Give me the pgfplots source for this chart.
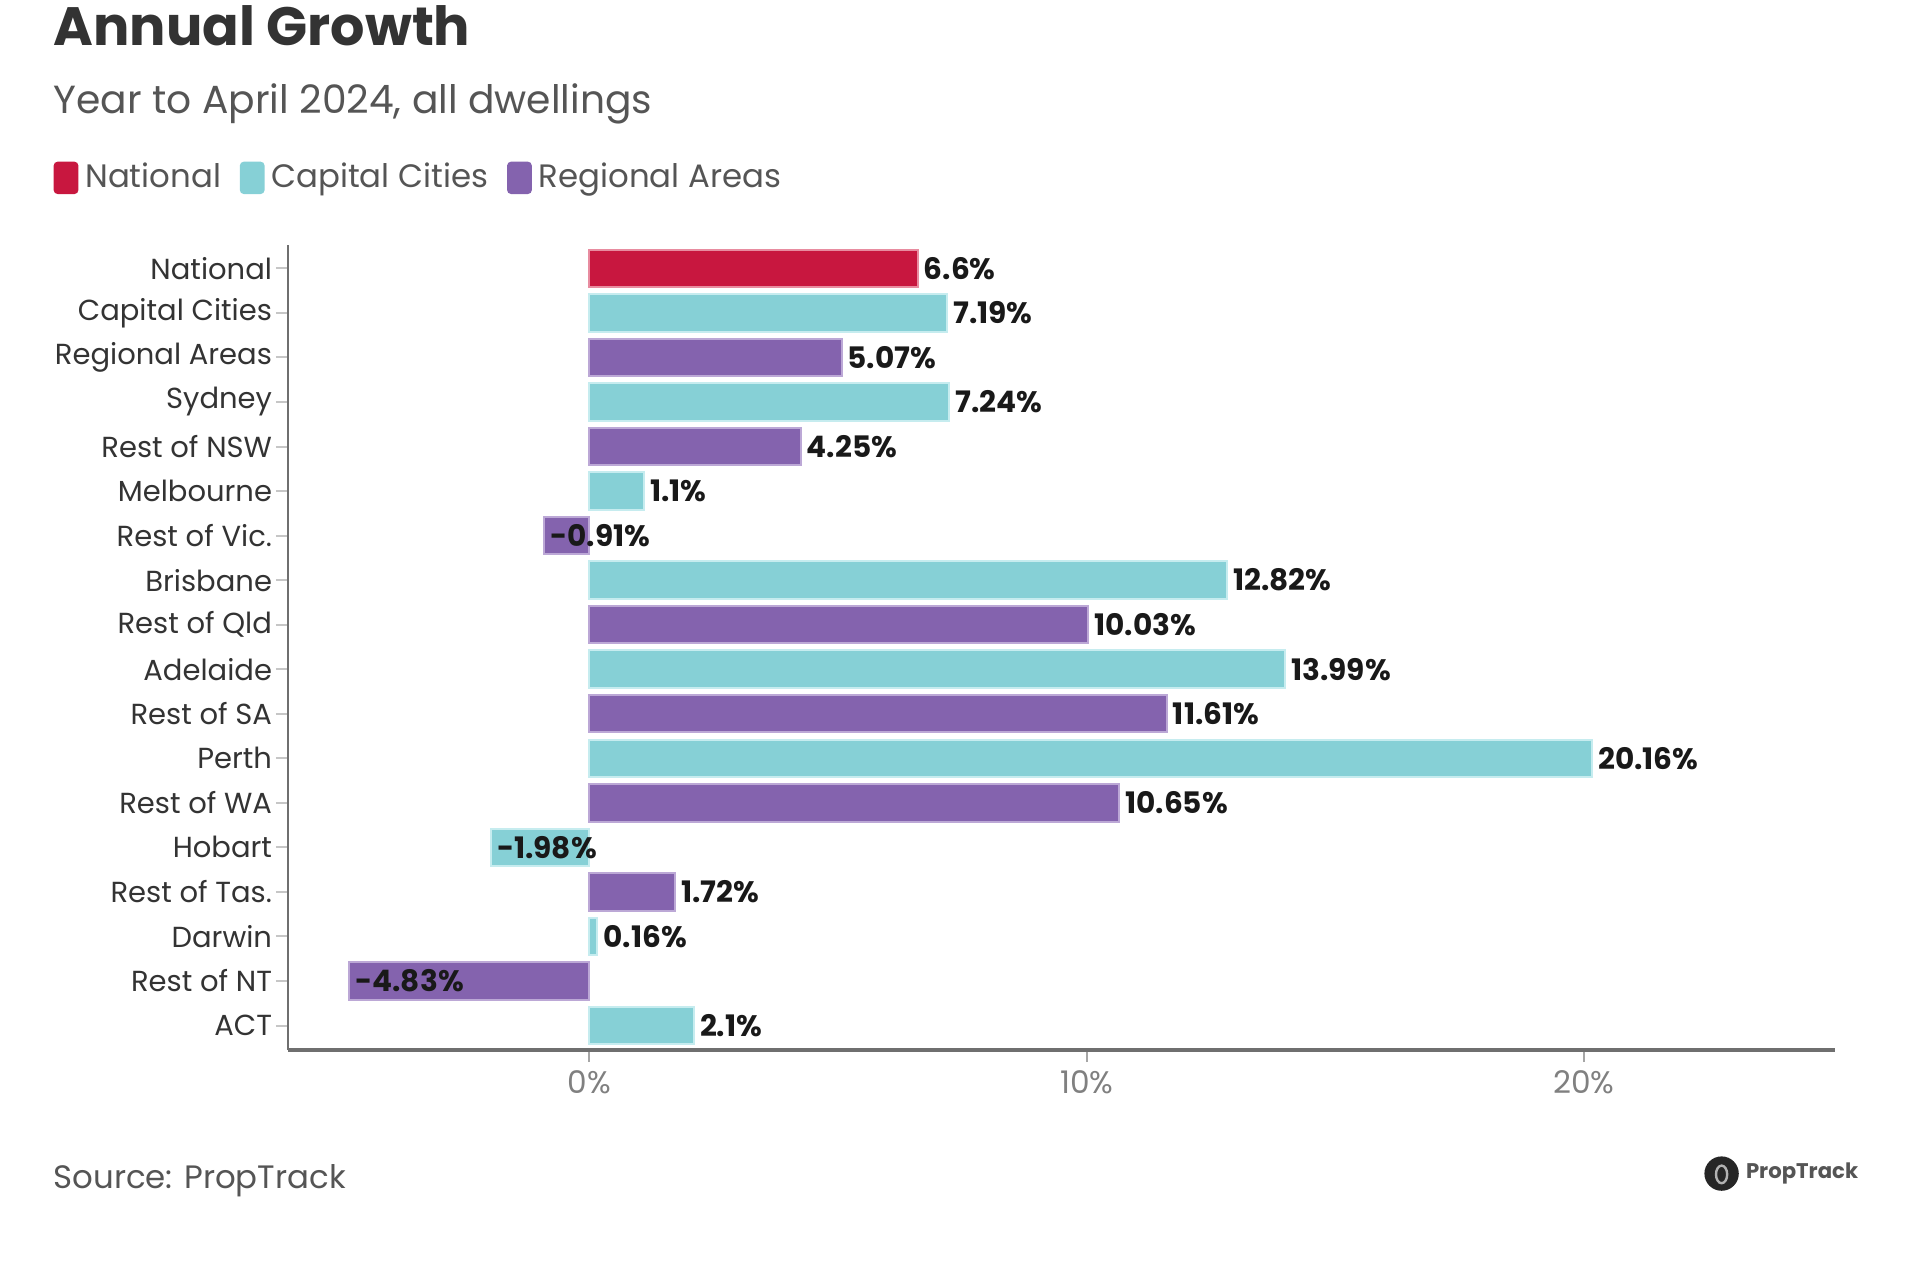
\documentclass[border=0pt]{standalone}
\usepackage{fontspec}
\setmainfont{Poppins}
\usepackage{pgfplots}
\pgfplotsset{compat=1.18}
\definecolor{natred}{HTML}{C8173F}
\definecolor{natredlt}{HTML}{E88CA0}
\definecolor{capteal}{HTML}{86D0D6}
\definecolor{captealt}{HTML}{C6ECEF}
\definecolor{regpurp}{HTML}{8463AE}
\definecolor{regpurplt}{HTML}{BCA8D6}
\definecolor{titlegray}{HTML}{333333}
\definecolor{subgray}{HTML}{555555}
\definecolor{axgray}{HTML}{6F6F6F}
\begin{document}
\begin{tikzpicture}
\useasboundingbox (0,0) rectangle (480pt,316.5pt);
% titles
\node[anchor=base west, inner sep=0pt, text=titlegray,
      font=\fontsize{13.5}{16}\selectfont\bfseries] at (13.2pt,305.2pt) {Annual Growth};
\node[anchor=base west, inner sep=0pt, text=subgray,
      font=\fontsize{9.8}{11}\selectfont] at (13.2pt,288pt) {Year to April 2024, all dwellings};
\begin{axis}[
    at={(72pt,54pt)}, anchor=south west,
    width=386.8pt, height=201.2pt, scale only axis,
    xbar, bar width=0.84,
    xmin=-6.06, xmax=25.05, ymin=-0.55, ymax=17.52,
    axis x line*=bottom, axis y line*=left,
    x axis line style={draw=axgray, line width=1pt},
    y axis line style={draw=axgray, line width=0.6pt},
    tick align=outside, major tick length=3pt,
    xtick={0,10,20}, xticklabels={0\%,10\%,20\%},
    x tick style={draw=gray!70, line width=0.5pt},
    y tick style={draw=gray!45, line width=0.5pt},
    ytick={0,...,17},
    yticklabels={ACT,Rest of NT,Darwin,Rest of Tas.,Hobart,Rest of WA,Perth,Rest of SA,Adelaide,Rest of Qld,Brisbane,Rest of Vic.,Melbourne,Rest of NSW,Sydney,Regional Areas,Capital Cities,National},
    yticklabel style={font=\fontsize{7.25}{9}\selectfont, text=titlegray, inner sep=0.8pt},
    xticklabel style={font=\fontsize{7.8}{9}\selectfont, text=gray, inner sep=2pt},
    point meta=explicit symbolic,
    nodes near coords={\pgfplotspointmeta\%},
    nodes near coords style={anchor=west, inner sep=1.3pt, text=black!90,
        font=\fontsize{7.4}{8}\selectfont\bfseries},
    legend columns=3,
    legend style={at={(-0.152,1.0837)}, anchor=west, draw=none, fill=none,
        inner sep=0pt, font=\fontsize{8.1}{10}\selectfont, text=subgray,
        nodes={inner sep=0.7pt},
        /tikz/every odd column/.append style={column sep=1pt},
        /tikz/every even column/.append style={column sep=4pt}},
]
\addplot[bar shift=0pt, fill=natred, draw=natredlt, line width=0.5pt,
    legend image code/.code={\fill[natred, rounded corners=0.8pt] (0pt,-3.8pt) rectangle (5.7pt,3.8pt);}]
    coordinates {(6.6,17) [6.6]};
\addplot[bar shift=0pt, fill=capteal, draw=captealt, line width=0.5pt,
    legend image code/.code={\fill[capteal, rounded corners=0.8pt] (0pt,-3.8pt) rectangle (5.7pt,3.8pt);}]
    coordinates {
    (7.19,16) [7.19]
    (7.24,14) [7.24]
    (1.1,12) [1.1]
    (12.82,10) [12.82]
    (13.99,8) [13.99]
    (20.16,6) [20.16]
    (-1.98,4) [-1.98]
    (0.16,2) [0.16]
    (2.1,0) [2.1]
    };
\addplot[bar shift=0pt, fill=regpurp, draw=regpurplt, line width=0.5pt,
    legend image code/.code={\fill[regpurp, rounded corners=0.8pt] (0pt,-3.8pt) rectangle (5.7pt,3.8pt);}]
    coordinates {
    (5.07,15) [5.07]
    (4.25,13) [4.25]
    (-0.91,11) [-0.91]
    (10.03,9) [10.03]
    (11.61,7) [11.61]
    (10.65,5) [10.65]
    (1.72,3) [1.72]
    (-4.83,1) [-4.83]
    };
\legend{National,Capital Cities,Regional Areas}
\end{axis}
% footer
\node[anchor=base west, inner sep=0pt, text=subgray,
      font=\fontsize{8.1}{10}\selectfont] at (13.2pt,19.3pt) {Source: PropTrack};
\fill[black!85] (430.4pt,23.1pt) circle (4.3pt);
\draw[gray!60, line width=0.6pt] (430.4pt,22.9pt) ellipse (1.4pt and 2.2pt);
\node[anchor=west, inner sep=0pt, text=subgray,
      font=\fontsize{5.3}{7}\selectfont\bfseries] at (436.3pt,23.1pt) {PropTrack};
\end{tikzpicture}
\end{document}
